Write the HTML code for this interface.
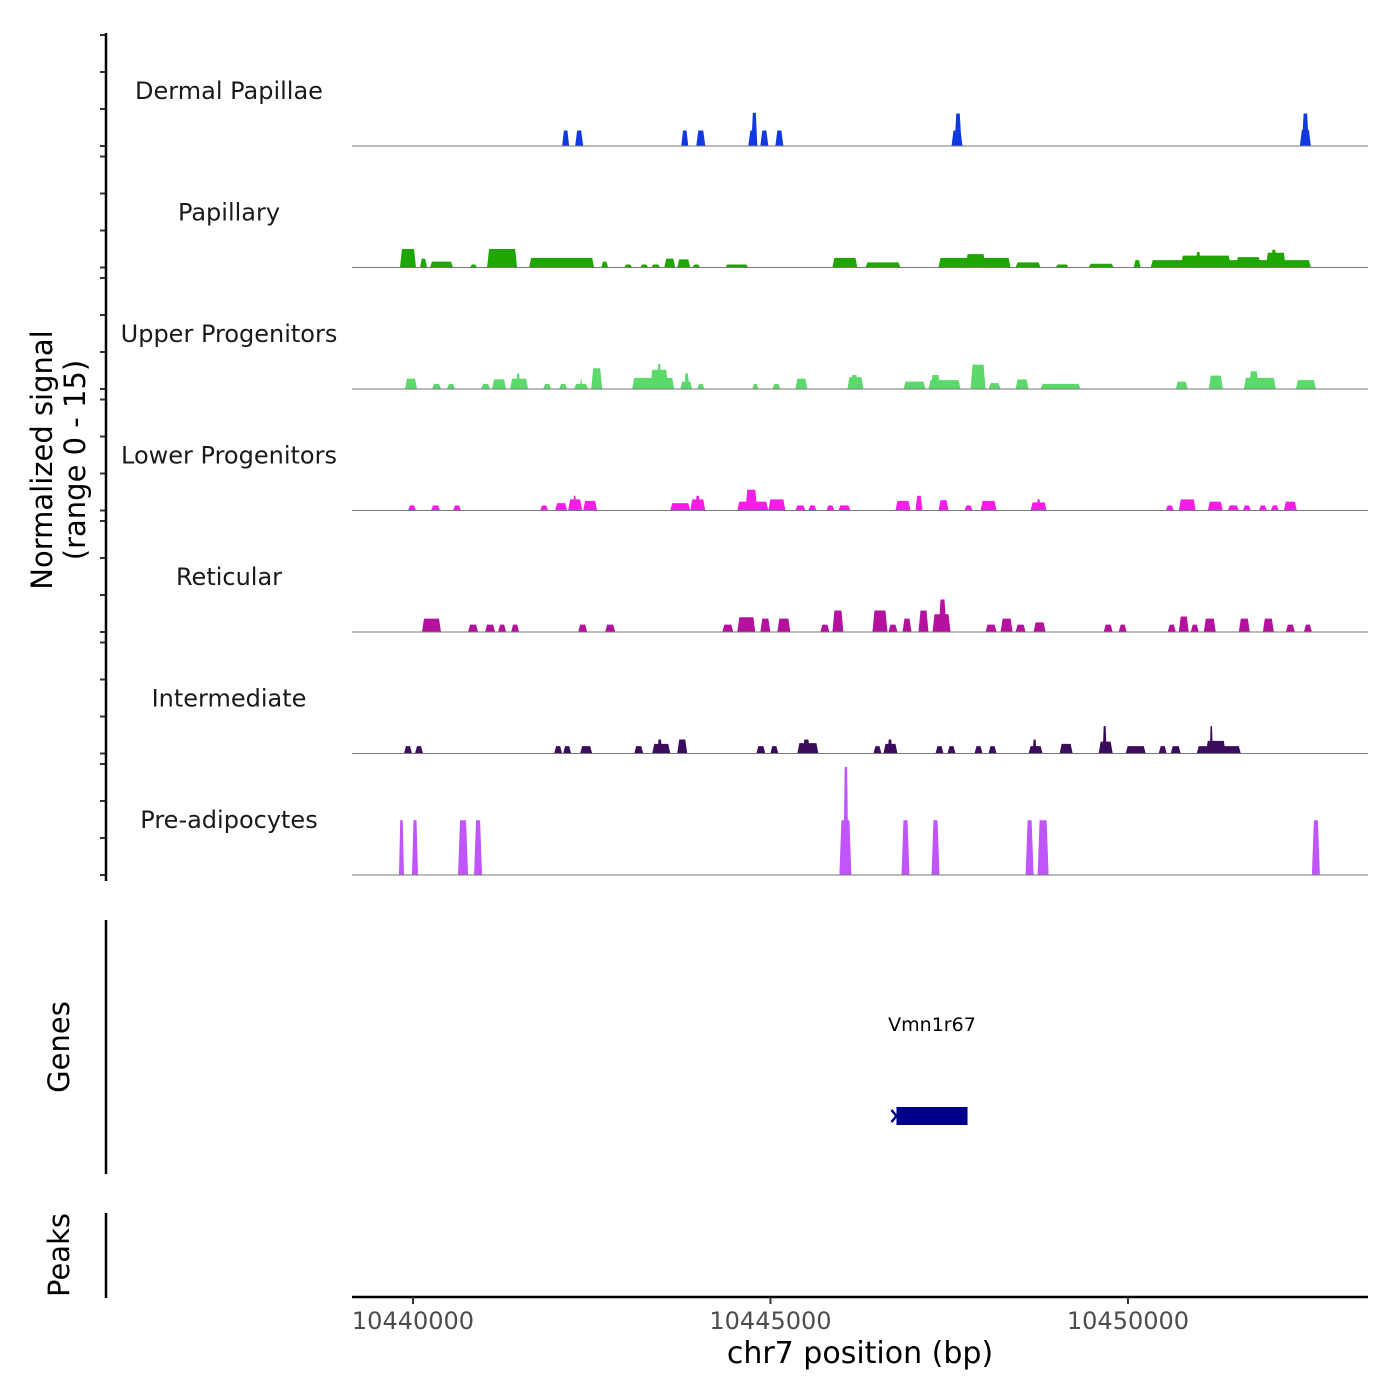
<!DOCTYPE html>
<html><head><meta charset="utf-8"><style>
html,body{margin:0;padding:0;background:#fff;}
svg{display:block;font-family:"DejaVu Sans","Liberation Sans",sans-serif;}
</style></head><body>
<svg id="chart" width="1400" height="1400" viewBox="0 0 1400 1400" xmlns="http://www.w3.org/2000/svg">
<g id="tracks"></g>
<g id="axes"></g>
</svg>
<script>
const REGION_BASE = 10440000;
const xDomain = [10439147, 10453357];
const xTicks = [10440000, 10445000, 10450000];
const trackNames = ["Dermal Papillae","Papillary","Upper Progenitors","Lower Progenitors","Reticular","Intermediate","Pre-adipocytes"];
const trackColors = ["#1238e0","#1fa600","#5bd96a","#f020e6","#b5119f","#3b0b5c","#bf55fa"];
// peaks per track: start offsets, end offsets (bp from REGION_BASE), heights (signal)
const dpStart=[2086,2268,3752,3962,4690,4732,4858,5068,7532,7574,12404,12432];
const dpEnd=[2184,2380,3850,4088,4816,4816,4970,5180,7686,7672,12558,12530];
const dpH=[2.1,2.1,2.1,2.1,2.1,4.5,2.1,2.1,2.1,4.4,2.2,4.4];
const papStart=[-182,98,238,798,1036,1624,2632,2954,3178,3332,3514,3696,3906,4368,5866,6328,7350,7728,8428,8988,9450,10080,10318,10738,10948,11508,11928,12000];
const papEnd=[42,196,560,896,1456,2534,2730,3066,3290,3458,3668,3878,4018,4690,6216,6818,8358,8008,8778,9170,9800,10178,12558,11438,11018,11858,12208,12080];
const papH=[2.5,1.2,0.8,0.4,2.5,1.3,0.8,0.4,0.4,0.4,1.2,1.1,0.4,0.4,1.3,0.7,1.3,1.8,0.7,0.4,0.5,1.0,1.0,1.6,2.1,1.4,2.0,2.4];
const upStart=[-112,266,476,952,1106,1358,1442,1820,2044,2254,2338,2492,3066,3318,3416,3738,3794,3976,4746,5026,5348,6076,6118,6860,7210,7238,7798,8050,8428,8778,10668,11130,11620,11690,12348];
const upEnd=[56,392,588,1078,1302,1610,1498,1932,2156,2450,2366,2646,3654,3570,3472,3906,3864,4074,4830,5138,5516,6300,6230,7168,7658,7378,8008,8218,8610,9338,10836,11326,12068,11830,12628];
const upH=[1.4,0.7,0.7,0.7,1.3,1.4,2.1,0.7,0.7,0.7,1.3,2.8,1.5,2.6,3.4,1.0,2.1,0.7,0.7,0.7,1.4,1.6,1.9,1.0,1.2,1.9,3.3,0.8,1.3,0.7,1.0,1.8,1.5,2.4,1.2];
const lowStart=[-70,252,560,1778,1988,2170,2240,2380,3598,3878,3948,4536,4648,4970,5348,5530,5782,5950,6748,7028,7350,7714,7938,8638,8722,10528,10710,11116,11396,11606,11830,11998,12180];
const lowEnd=[42,378,672,1890,2156,2366,2282,2576,3878,4088,4018,4970,4816,5208,5488,5642,5894,6118,6958,7126,7490,7826,8162,8862,8778,10640,10948,11326,11550,11718,11942,12110,12362];
const lowH=[0.7,0.7,0.7,0.7,1.0,1.5,2.0,1.3,1.0,1.5,2.0,1.2,2.8,1.5,0.7,0.7,0.7,0.7,1.3,2.0,1.4,0.7,1.3,1.1,1.5,0.7,1.5,1.2,0.7,0.7,0.7,0.7,1.2];
const retStart=[126,770,1008,1190,1372,2310,2688,4326,4536,4858,5096,5698,5866,6426,6650,6846,7070,7266,7350,8008,8218,8428,8680,9660,9870,10556,10710,10878,11060,11550,11886,12208,12460];
const retEnd=[392,910,1148,1302,1484,2436,2828,4480,4788,4998,5278,5824,6020,6636,6776,6972,7210,7518,7462,8162,8386,8568,8848,9786,9982,10668,10850,10990,11228,11704,12040,12334,12572];
const retH=[1.8,1.0,1.0,1.0,1.0,1.0,1.0,1.0,2.0,1.8,1.8,1.0,2.9,2.9,1.0,1.8,2.9,2.4,4.4,1.0,1.8,1.0,1.3,1.0,1.0,1.0,2.1,1.0,1.8,1.8,1.8,1.0,1.0];
const intStart=[-126,28,1974,2100,2338,3094,3346,3416,3696,4802,4998,5376,5446,6440,6580,6636,7308,7476,7854,8050,8610,8666,9044,9590,9646,9968,10430,10598,10962,11088,11144];
const intEnd=[-14,140,2086,2212,2506,3220,3598,3486,3836,4928,5110,5670,5558,6552,6776,6706,7420,7588,7966,8162,8806,8722,9226,9786,9702,10248,10542,10738,11578,11368,11186];
const intH=[1.0,1.0,1.0,1.0,1.0,1.0,1.3,1.9,1.9,1.0,1.0,1.4,1.9,1.0,1.3,1.9,1.0,1.0,1.0,1.0,1.0,1.9,1.3,1.6,3.7,1.0,1.0,1.0,1.0,1.7,3.7];
const preStart=[-196,-14,630,854,5964,6020,6832,7252,8568,8736,12572];
const preEnd=[-126,70,770,966,6132,6090,6944,7364,8680,8890,12684];
const preH=[7.4,7.4,7.4,7.4,7.4,14.6,7.4,7.4,7.4,7.4,7.4];
const trackStarts=[dpStart,papStart,upStart,lowStart,retStart,intStart,preStart];
const trackEnds=[dpEnd,papEnd,upEnd,lowEnd,retEnd,intEnd,preEnd];
const trackHeights=[dpH,papH,upH,lowH,retH,intH,preH];
const geneName = "Vmn1r67";
const geneStart = 10446762, geneEnd = 10447756;
const yMax = 15;

const NS="http://www.w3.org/2000/svg";
const X0=352, X1=1368, BASE0=146, STEP=121.5, TH=111;
function xs(bp){return X0+(bp-xDomain[0])/(xDomain[1]-xDomain[0])*(X1-X0);}
function ys(i,v){return BASE0+i*STEP - v/yMax*TH;}
function mk(tag,attrs,parent){const e=document.createElementNS(NS,tag);for(const k in attrs)e.setAttribute(k,attrs[k]);parent.appendChild(e);return e;}
const tracks=document.getElementById('tracks'), axes=document.getElementById('axes');

trackNames.forEach((name,i)=>{
  const g=mk('g',{},tracks);
  
  
  const base=ys(i,0);
  const st=trackStarts[i], en=trackEnds[i], hs=trackHeights[i];
  for(let k=0;k<st.length;k++){
    const a=xs(REGION_BASE+st[k]), b=xs(REGION_BASE+en[k]), top=ys(i,hs[k]);
    const r=Math.min((b-a)*0.25, 2);
    const p=mk('path',{d:`M${a},${base}L${a+r},${top}L${b-r},${top}L${b},${base}Z`,fill:trackColors[i]},g);
    
    
  }
  const bl=mk('line',{x1:X0,x2:X1,y1:base,y2:base,stroke:'#777','stroke-width':1},g);
  
  
  const t=mk('text',{x:229,y:base-47,'text-anchor':'middle','font-size':24,fill:'#1a1a1a'},g);
  t.textContent=name;
  
  
  for(let k=0;k<4;k++){
    const y=base-k*TH/3;
    const tk=mk('line',{x1:100,x2:106,y1:y,y2:y,stroke:'#333','stroke-width':2},axes);
    
    
  }
});

function line(x1,y1,x2,y2,w,name){const l=mk('line',{x1,y1,x2,y2,stroke:'#000','stroke-width':w},axes);return l;}
function text(x,y,s,size,name,extra){const t=mk('text',Object.assign({x,y,'font-size':size,'text-anchor':'middle',fill:'#000'},extra||{}),axes);t.textContent=s;return t;}
line(106,33,106,881,2.5,'y-axis-line');
line(106,920,106,1174,2.5,'genes-axis-line');
line(106,1213,106,1298,2.5,'peaks-axis-line');
line(X0,1297,X1,1297,2.5,'x-axis-line');
xTicks.forEach(v=>{
  const x=xs(v);
  const l=mk('line',{x1:x,x2:x,y1:1297,y2:1304,stroke:'#333','stroke-width':2},axes);
  
  
  text(x,1329,String(v),24,'x-tick-label',{fill:'#4d4d4d'});
});
text(860,1363,'chr7 position (bp)',30,'x-axis-title');
const yt=text(0,0,'',29,'y-axis-title',{transform:'translate(52,460) rotate(-90)'});
const t1=mk('tspan',{x:0,dy:0},yt);t1.textContent='Normalized signal';
const t2=mk('tspan',{x:0,dy:33},yt);t2.textContent='(range 0 - 15)';
text(0,0,'Genes',29,'genes-axis-title',{transform:'translate(69,1047) rotate(-90)'});
text(0,0,'Peaks',29,'peaks-axis-title',{transform:'translate(69,1255) rotate(-90)'});

const gg=mk('g',{},axes);


const gr=mk('rect',{x:xs(geneStart),y:1107,width:xs(geneEnd)-xs(geneStart),height:18,fill:'#00008b'},gg);


const ga=mk('path',{d:`M${xs(geneStart)-5},1110L${xs(geneStart)},1116L${xs(geneStart)-5},1122`,stroke:'#00008b','stroke-width':2.5,fill:'none'},gg);


const gl=mk('text',{x:(xs(geneStart)+xs(geneEnd))/2,y:1031,'font-size':19,'text-anchor':'middle',fill:'#000'},gg);
gl.textContent=geneName;


</script>
</body></html>
